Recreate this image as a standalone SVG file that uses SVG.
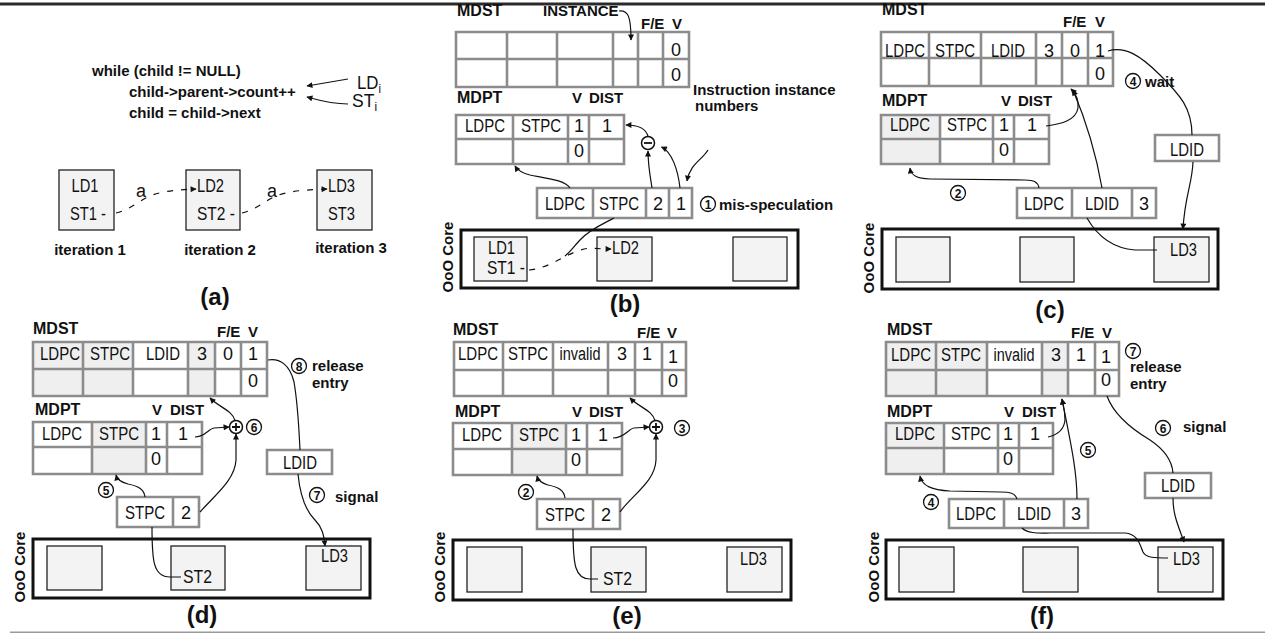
<svg xmlns="http://www.w3.org/2000/svg" width="1265" height="633" viewBox="0 0 1265 633">
<style>
text{fill:#111}
.r{font-family:"Liberation Sans",Arial,sans-serif;font-size:18px}
.m{text-anchor:middle}
.b{font-family:"Liberation Sans",Arial,sans-serif;font-weight:bold;font-size:15px}
.t{font-size:16px}
.cap{font-family:"Liberation Sans",Arial,sans-serif;font-weight:bold;font-size:24px;text-anchor:middle}
.bg{fill:#fff}
.sh{fill:#efefef}
.grid{fill:none;stroke:#8c8c8c;stroke-width:2.6}
.core{fill:#fff;stroke:#111;stroke-width:3}
.ib{fill:#f3f3f3;stroke:#222;stroke-width:1.3}
.c{fill:none;stroke:#111;stroke-width:1.2}
.a{marker-end:url(#ah)}
.d{stroke-dasharray:6 8}
.cn circle{fill:none;stroke:#111;stroke-width:1.3}
.cn text{font-family:"Liberation Sans",Arial,sans-serif;font-weight:bold;font-size:12px;text-anchor:middle}
.op circle{fill:#fff;stroke:#111;stroke-width:1.5}
.op path{stroke:#111;stroke-width:1.8;fill:none}
</style>
<defs>
<marker id="ah" viewBox="0 0 10 10" refX="9" refY="5" markerWidth="8" markerHeight="6" markerUnits="userSpaceOnUse" orient="auto"><path d="M0,0 L10,5 L0,10 z" fill="#111"/></marker>
</defs>
<rect width="1265" height="633" fill="#fff"/>
<path d="M0 4H1265" stroke="#2a2a2a" stroke-width="3"/>
<path d="M10 632.3H1265" stroke="#9a9a9a" stroke-width="1.5"/>

<!-- ===== Panel (a) ===== -->
<g id="panel-a">
<g id="a-code">
<text class="b" x="92" y="76">while (child != NULL)</text>
<text class="b" x="129" y="97">child-&gt;parent-&gt;count++</text>
<text class="b" x="129" y="118">child = child-&gt;next</text>
<text class="r" x="357" y="89" textLength="24" lengthAdjust="spacingAndGlyphs">LD<tspan font-size="12" dy="4">i</tspan></text>
<text class="r" x="352" y="107" textLength="25" lengthAdjust="spacingAndGlyphs">ST<tspan font-size="12" dy="4">i</tspan></text>
</g>
<g id="a-iter1"><rect class="ib" x="59" y="170" width="55" height="60"/><text class="r m" x="85" y="192" textLength="27" lengthAdjust="spacingAndGlyphs">LD1</text><text class="r" x="70" y="220" textLength="36" lengthAdjust="spacingAndGlyphs">ST1 -</text><text class="b m" x="90" y="255">iteration 1</text></g>
<g id="a-iter2"><rect class="ib" x="186" y="170" width="54" height="60"/><text class="r" x="197" y="192" textLength="27" lengthAdjust="spacingAndGlyphs">LD2</text><text class="r" x="197" y="220" textLength="38" lengthAdjust="spacingAndGlyphs">ST2 -</text><text class="b m" x="220" y="255">iteration 2</text></g>
<g id="a-iter3"><rect class="ib" x="317" y="170" width="55" height="60"/><text class="r" x="328" y="192" textLength="27" lengthAdjust="spacingAndGlyphs">LD3</text><text class="r" x="328" y="220" textLength="27" lengthAdjust="spacingAndGlyphs">ST3</text><text class="b m" x="351" y="253">iteration 3</text></g>
<g id="a-connectors">
<path class="c a" d="M348 79L307 86"/>
<path class="c a" d="M348 104C330 104 318 100 307 97"/>
<path class="c a d" d="M116 213C130 210 140 200 150 196S170 190 196 189"/>
<path class="c a d" d="M242 213C256 210 266 200 276 196S298 190 327 189"/>
<text class="r" x="136" y="197">a</text>
<text class="r" x="267" y="197">a</text>
</g>
<text class="cap" x="215" y="305">(a)</text>
</g>

<!-- ===== Panel (b) ===== -->
<g id="panel-b">
<text class="b t" x="457" y="16">MDST</text>
<text class="b" x="543" y="16">INSTANCE</text>
<text class="b" x="641" y="29">F/E</text>
<text class="b" x="672" y="29">V</text>
<g id="b-mdst">
<rect class="bg" x="456" y="32" width="233" height="55"/>
<path class="grid" d="M456 32H689V87H456Z M507 32V87 M557 32V87 M613 32V87 M638 32V87 M663 32V87 M456 59H689"/>
<text class="r m" x="676" y="56">0</text><text class="r m" x="676" y="81">0</text>
</g>
<text class="b t" x="457" y="103">MDPT</text>
<text class="b" x="572" y="103">V</text>
<text class="b" x="589" y="103">DIST</text>
<g id="b-mdpt">
<rect class="bg" x="456" y="115" width="168" height="49"/>
<path class="grid" d="M456 115H624V164H456Z M513 115V164 M568 115V164 M589 115V164 M456 139H624"/>
<text class="r m" x="485" y="132" textLength="40" lengthAdjust="spacingAndGlyphs">LDPC</text><text class="r m" x="541" y="132" textLength="40" lengthAdjust="spacingAndGlyphs">STPC</text><text class="r m" x="579" y="132">1</text><text class="r m" x="607" y="132">1</text>
<text class="r m" x="579" y="157">0</text>
</g>
<text class="b" x="693" y="94.5">Instruction instance</text>
<text class="b" x="695" y="111">numbers</text>
<g id="b-sub" class="op"><circle cx="648" cy="143" r="6.5"/><path d="M644 143H652"/></g>
<g id="b-inst">
<rect class="bg" x="537" y="188" width="155" height="30"/>
<path class="grid" d="M537 188H692V218H537Z M593 188V218 M646 188V218 M669 188V218"/>
<text class="r m" x="565" y="210" textLength="40" lengthAdjust="spacingAndGlyphs">LDPC</text><text class="r m" x="619" y="210" textLength="40" lengthAdjust="spacingAndGlyphs">STPC</text><text class="r m" x="658" y="210">2</text><text class="r m" x="681" y="210">1</text>
</g>
<g id="b-step1"><g class="cn"><circle cx="708" cy="204" r="7.5"/><text x="708" y="208.5">1</text></g><text class="b" x="719" y="210">mis-speculation</text></g>
<g id="b-core">
<rect class="core" x="461" y="230" width="337" height="58"/>
<rect class="ib" x="474" y="237" width="53" height="44"/>
<rect class="ib" x="597" y="237" width="55" height="44"/>
<rect class="ib" x="733" y="237" width="54" height="44"/>
<text class="r" x="488" y="254" textLength="27" lengthAdjust="spacingAndGlyphs">LD1</text><text class="r" x="487" y="274" textLength="38" lengthAdjust="spacingAndGlyphs">ST1 -</text>
<text class="r" x="612" y="254" textLength="27" lengthAdjust="spacingAndGlyphs">LD2</text>
<text class="b m" transform="translate(453,257) rotate(-90)">OoO Core</text>
</g>
<g id="b-connectors">
<path class="c a" d="M619 11C628 10 631 16 631 40"/>
<path class="c a" d="M708 150C702 160 690 164 687 181"/>
<path class="c a" d="M648 136.5C646 128 636 125 626 125"/>
<path class="c a" d="M652 188C650 175 648 165 648 151"/>
<path class="c a" d="M680 188C678 170 672 152 661.5 147"/>
<path class="c a" d="M570 188C565 180 545 178 530 175C522 173 518 171 515 166"/>
<path class="c a d" d="M529 270C548 268 560 258 575 252S590 249 611 249"/>
<path class="c" d="M614 218C605 223 590 229 580 240S570 252 565 256"/>
</g>
<text class="cap" x="625" y="312">(b)</text>
</g>

<!-- ===== Panel (c) ===== -->
<g id="panel-c">
<text class="b t" x="882" y="15">MDST</text>
<text class="b" x="1063" y="27">F/E</text>
<text class="b" x="1095" y="27">V</text>
<g id="c-mdst">
<rect class="bg" x="881" y="32" width="232" height="54"/>
<path class="grid" d="M881 32H1113V86H881Z M929 32V86 M981 32V86 M1036 32V86 M1062 32V86 M1088 32V86 M881 58H1113"/>
<text class="r m" x="905" y="57" textLength="40" lengthAdjust="spacingAndGlyphs">LDPC</text><text class="r m" x="955" y="57" textLength="40" lengthAdjust="spacingAndGlyphs">STPC</text><text class="r m" x="1008" y="57" textLength="34" lengthAdjust="spacingAndGlyphs">LDID</text><text class="r m" x="1049" y="57">3</text><text class="r m" x="1075" y="57">0</text><text class="r m" x="1100" y="57">1</text>
<text class="r m" x="1100" y="80">0</text>
</g>
<text class="b t" x="882" y="106">MDPT</text>
<text class="b" x="1001" y="106">V</text>
<text class="b" x="1018" y="106">DIST</text>
<g id="c-mdpt">
<rect class="bg" x="881" y="115" width="168" height="49"/>
<rect class="sh" x="881" y="115" width="59" height="49"/>
<path class="grid" d="M881 115H1049V164H881Z M940 115V164 M993 115V164 M1014 115V164 M881 139H1049"/>
<text class="r m" x="910" y="131" textLength="40" lengthAdjust="spacingAndGlyphs">LDPC</text><text class="r m" x="967" y="131" textLength="40" lengthAdjust="spacingAndGlyphs">STPC</text><text class="r m" x="1004" y="131">1</text><text class="r m" x="1032" y="131">1</text>
<text class="r m" x="1004" y="156">0</text>
</g>
<g id="c-ldid">
<rect class="bg" x="1155" y="135" width="64" height="26"/>
<path class="grid" d="M1155 135H1219V161H1155Z"/>
<text class="r m" x="1187" y="156" textLength="34" lengthAdjust="spacingAndGlyphs">LDID</text>
</g>
<g id="c-inst">
<rect class="bg" x="1017" y="188" width="139" height="30"/>
<path class="grid" d="M1017 188H1156V218H1017Z M1072 188V218 M1132 188V218"/>
<text class="r m" x="1044" y="210" textLength="40" lengthAdjust="spacingAndGlyphs">LDPC</text><text class="r m" x="1102" y="210" textLength="34" lengthAdjust="spacingAndGlyphs">LDID</text><text class="r m" x="1144" y="210">3</text>
</g>
<g id="c-step4"><g class="cn"><circle cx="1133" cy="81" r="7.5"/><text x="1133" y="85.5">4</text></g><text class="b" x="1145" y="87">wait</text></g>
<g id="c-step2" class="cn"><circle cx="958" cy="193" r="7.5"/><text x="958" y="197.5">2</text></g>
<g id="c-core">
<rect class="core" x="882" y="229" width="336" height="60"/>
<rect class="ib" x="896" y="237" width="54" height="45"/>
<rect class="ib" x="1020" y="237" width="54" height="45"/>
<rect class="ib" x="1154" y="237" width="55" height="45"/>
<text class="r" x="1170" y="256" textLength="27" lengthAdjust="spacingAndGlyphs">LD3</text>
<text class="b m" transform="translate(874,258) rotate(-90)">OoO Core</text>
</g>
<g id="c-connectors">
<path class="c a" d="M1046 126C1062 124 1076 120 1078 108C1079 98 1075 93 1071 89"/>
<path class="c a" d="M1102 188C1098 165 1090 130 1073 90"/>
<path class="c" d="M1108 51C1125 46 1140 55 1160 75C1180 95 1192 108 1192 135"/>
<path class="c a" d="M1193 162C1192 185 1185 195 1183 229"/>
<path class="c a" d="M1039 188C1038 182 1034 180 1025 180L930 179C916 179 911 175 910 168"/>
<path class="c" d="M1087 218C1095 232 1110 248 1135 250L1157 250"/>
</g>
<text class="cap" x="1050" y="318">(c)</text>
</g>

<!-- ===== Panel (d) ===== -->
<g id="panel-d">
<text class="b t" x="33" y="334">MDST</text>
<text class="b" x="217" y="337">F/E</text>
<text class="b" x="248" y="337">V</text>
<g id="d-mdst">
<rect class="bg" x="33" y="342" width="234" height="54"/>
<rect class="sh" x="33" y="342" width="100" height="54"/>
<rect class="sh" x="188" y="342" width="27" height="54"/>
<path class="grid" d="M33 342H267V396H33Z M83 342V396 M133 342V396 M188 342V396 M215 342V396 M241 342V396 M33 369H267"/>
<text class="r m" x="60" y="360" textLength="40" lengthAdjust="spacingAndGlyphs">LDPC</text><text class="r m" x="110" y="360" textLength="40" lengthAdjust="spacingAndGlyphs">STPC</text><text class="r m" x="163" y="360" textLength="34" lengthAdjust="spacingAndGlyphs">LDID</text><text class="r m" x="202" y="360">3</text><text class="r m" x="228" y="360">0</text><text class="r m" x="253" y="360">1</text>
<text class="r m" x="253" y="387">0</text>
</g>
<g id="d-step8"><g class="cn"><circle cx="299" cy="366" r="7.5"/><text x="299" y="370.5">8</text></g><text class="b" x="312" y="371">release</text><text class="b" x="312" y="388">entry</text></g>
<text class="b t" x="35" y="415">MDPT</text>
<text class="b" x="152" y="415">V</text>
<text class="b" x="170" y="415">DIST</text>
<g id="d-mdpt">
<rect class="bg" x="33" y="422" width="169" height="52"/>
<rect class="sh" x="92" y="422" width="54" height="52"/>
<path class="grid" d="M33 422H202V474H33Z M92 422V474 M146 422V474 M167 422V474 M33 447H202"/>
<text class="r m" x="62" y="440" textLength="40" lengthAdjust="spacingAndGlyphs">LDPC</text><text class="r m" x="119" y="440" textLength="40" lengthAdjust="spacingAndGlyphs">STPC</text><text class="r m" x="156" y="440">1</text><text class="r m" x="183" y="440">1</text>
<text class="r m" x="156" y="465">0</text>
</g>
<g id="d-add" class="op"><circle cx="236" cy="427" r="6.5"/><path d="M232 427H240M236 423V431"/></g>
<g id="d-step6" class="cn"><circle cx="254" cy="427" r="7.5"/><text x="254" y="431.5">6</text></g>
<g id="d-ldid">
<rect class="bg" x="267" y="450" width="65" height="24"/>
<path class="grid" d="M267 450H332V474H267Z"/>
<text class="r m" x="300" y="469" textLength="34" lengthAdjust="spacingAndGlyphs">LDID</text>
</g>
<g id="d-step7"><g class="cn"><circle cx="317" cy="495" r="7.5"/><text x="317" y="499.5">7</text></g><text class="b" x="335" y="502">signal</text></g>
<g id="d-step5" class="cn"><circle cx="106" cy="490" r="7.5"/><text x="106" y="494.5">5</text></g>
<g id="d-inst">
<rect class="bg" x="117" y="497" width="82" height="30"/>
<path class="grid" d="M117 497H199V527H117Z M173 497V527"/>
<text class="r m" x="145" y="519" textLength="40" lengthAdjust="spacingAndGlyphs">STPC</text><text class="r m" x="186" y="519">2</text>
</g>
<g id="d-core">
<rect class="core" x="33" y="539" width="337" height="59"/>
<rect class="ib" x="47" y="546" width="55" height="44"/>
<rect class="ib" x="171" y="546" width="54" height="44"/>
<rect class="ib" x="306" y="546" width="55" height="44"/>
<text class="r" x="183" y="583" textLength="29" lengthAdjust="spacingAndGlyphs">ST2</text>
<text class="r" x="321" y="562" textLength="27" lengthAdjust="spacingAndGlyphs">LD3</text>
<text class="b m" transform="translate(25,567) rotate(-90)">OoO Core</text>
</g>
<g id="d-connectors">
<path class="c" d="M268 360C280 358 290 365 294 382C298 405 299 430 300 450"/>
<path class="c a" d="M195 437C205 437 208 429 214 428L229 427"/>
<path class="c a" d="M235 420.5C232 410 220 408 210 398"/>
<path class="c a" d="M200 512C215 495 235 480 236 460L236 434"/>
<path class="c a" d="M298 474C300 495 305 510 315 520C322 527 324 535 325 546"/>
<path class="c a" d="M145 497C144 489 138 486 128 484C120 482 117 479 116 475"/>
<path class="c" d="M152 527C152 560 153 577 170 577L181 577"/>
</g>
<text class="cap" x="202" y="623">(d)</text>
</g>

<!-- ===== Panel (e) ===== -->
<g id="panel-e">
<text class="b t" x="453" y="335">MDST</text>
<text class="b" x="637" y="338">F/E</text>
<text class="b" x="667" y="338">V</text>
<g id="e-mdst">
<rect class="bg" x="454" y="342" width="232" height="54"/>
<path class="grid" d="M454 342H686V396H454Z M503 342V396 M553 342V396 M608 342V396 M635 342V396 M662 342V396 M454 370H686"/>
<text class="r m" x="478" y="360" textLength="40" lengthAdjust="spacingAndGlyphs">LDPC</text><text class="r m" x="528" y="360" textLength="40" lengthAdjust="spacingAndGlyphs">STPC</text><text class="r m" x="580" y="360" textLength="41" lengthAdjust="spacingAndGlyphs">invalid</text><text class="r m" x="622" y="360">3</text><text class="r m" x="647" y="360">1</text><text class="r m" x="673" y="363">1</text>
<text class="r m" x="673" y="387">0</text>
</g>
<text class="b t" x="455" y="417">MDPT</text>
<text class="b" x="572" y="417">V</text>
<text class="b" x="589" y="417">DIST</text>
<g id="e-mdpt">
<rect class="bg" x="453" y="423" width="169" height="52"/>
<rect class="sh" x="512" y="423" width="54" height="52"/>
<path class="grid" d="M453 423H622V475H453Z M512 423V475 M566 423V475 M587 423V475 M453 449H622"/>
<text class="r m" x="482" y="441" textLength="40" lengthAdjust="spacingAndGlyphs">LDPC</text><text class="r m" x="539" y="441" textLength="40" lengthAdjust="spacingAndGlyphs">STPC</text><text class="r m" x="576" y="441">1</text><text class="r m" x="603" y="441">1</text>
<text class="r m" x="576" y="466">0</text>
</g>
<g id="e-add" class="op"><circle cx="656" cy="427" r="6.5"/><path d="M652 427H660M656 423V431"/></g>
<g id="e-step3" class="cn"><circle cx="682" cy="428" r="7.5"/><text x="682" y="432.5">3</text></g>
<g id="e-step2" class="cn"><circle cx="526" cy="492" r="7.5"/><text x="526" y="496.5">2</text></g>
<g id="e-inst">
<rect class="bg" x="537" y="499" width="83" height="30"/>
<path class="grid" d="M537 499H620V529H537Z M593 499V529"/>
<text class="r m" x="565" y="521" textLength="40" lengthAdjust="spacingAndGlyphs">STPC</text><text class="r m" x="606" y="521">2</text>
</g>
<g id="e-core">
<rect class="core" x="453" y="540" width="338" height="60"/>
<rect class="ib" x="467" y="547" width="55" height="45"/>
<rect class="ib" x="591" y="547" width="55" height="45"/>
<rect class="ib" x="727" y="547" width="55" height="45"/>
<text class="r" x="603" y="585" textLength="29" lengthAdjust="spacingAndGlyphs">ST2</text>
<text class="r" x="740" y="565" textLength="27" lengthAdjust="spacingAndGlyphs">LD3</text>
<text class="b m" transform="translate(445,567) rotate(-90)">OoO Core</text>
</g>
<g id="e-connectors">
<path class="c a" d="M613 438C625 438 628 429 634 428L649 427"/>
<path class="c a" d="M655 420.5C652 410 640 408 630 398"/>
<path class="c a" d="M620 512C632 495 655 482 656 460L656 434"/>
<path class="c a" d="M565 498C564 490 558 487 548 485C541 483 538 480 537 476"/>
<path class="c" d="M573 529C573 565 575 579 590 579L598 579"/>
</g>
<text class="cap" x="627" y="624">(e)</text>
</g>

<!-- ===== Panel (f) ===== -->
<g id="panel-f">
<text class="b t" x="887" y="335">MDST</text>
<text class="b" x="1071" y="338">F/E</text>
<text class="b" x="1102" y="338">V</text>
<g id="f-mdst">
<rect class="bg" x="886" y="342" width="233" height="54"/>
<rect class="sh" x="886" y="342" width="101" height="54"/>
<rect class="sh" x="1042" y="342" width="26" height="54"/>
<path class="grid" d="M886 342H1119V396H886Z M936 342V396 M987 342V396 M1042 342V396 M1068 342V396 M1095 342V396 M886 370H1119"/>
<text class="r m" x="911" y="361" textLength="40" lengthAdjust="spacingAndGlyphs">LDPC</text><text class="r m" x="961" y="361" textLength="40" lengthAdjust="spacingAndGlyphs">STPC</text><text class="r m" x="1014" y="361" textLength="41" lengthAdjust="spacingAndGlyphs">invalid</text><text class="r m" x="1056" y="361">3</text><text class="r m" x="1081" y="361">1</text><text class="r m" x="1106" y="363">1</text>
<text class="r m" x="1106" y="386">0</text>
</g>
<g id="f-step7"><g class="cn"><circle cx="1133" cy="351" r="7.5"/><text x="1133" y="355.5">7</text></g><text class="b" x="1130" y="372">release</text><text class="b" x="1130" y="389">entry</text></g>
<text class="b t" x="887" y="417">MDPT</text>
<text class="b" x="1004" y="417">V</text>
<text class="b" x="1022" y="417">DIST</text>
<g id="f-mdpt">
<rect class="bg" x="886" y="423" width="167" height="51"/>
<rect class="sh" x="886" y="423" width="58" height="51"/>
<path class="grid" d="M886 423H1053V474H886Z M944 423V474 M998 423V474 M1019 423V474 M886 448H1053"/>
<text class="r m" x="915" y="440" textLength="40" lengthAdjust="spacingAndGlyphs">LDPC</text><text class="r m" x="971" y="440" textLength="40" lengthAdjust="spacingAndGlyphs">STPC</text><text class="r m" x="1008" y="440">1</text><text class="r m" x="1035" y="440">1</text>
<text class="r m" x="1008" y="465">0</text>
</g>
<g id="f-step5" class="cn"><circle cx="1088" cy="450" r="7.5"/><text x="1088" y="454.5">5</text></g>
<g id="f-step6"><g class="cn"><circle cx="1163" cy="428" r="7.5"/><text x="1163" y="432.5">6</text></g><text class="b" x="1183" y="432">signal</text></g>
<g id="f-ldid">
<rect class="bg" x="1145" y="473" width="66" height="25"/>
<path class="grid" d="M1145 473H1211V498H1145Z"/>
<text class="r m" x="1178" y="492" textLength="34" lengthAdjust="spacingAndGlyphs">LDID</text>
</g>
<g id="f-step4" class="cn"><circle cx="931" cy="502" r="7.5"/><text x="931" y="506.5">4</text></g>
<g id="f-inst">
<rect class="bg" x="949" y="499" width="139" height="29"/>
<path class="grid" d="M949 499H1088V528H949Z M1004 499V528 M1064 499V528"/>
<text class="r m" x="976" y="520" textLength="40" lengthAdjust="spacingAndGlyphs">LDPC</text><text class="r m" x="1034" y="520" textLength="34" lengthAdjust="spacingAndGlyphs">LDID</text><text class="r m" x="1076" y="520">3</text>
</g>
<g id="f-core">
<rect class="core" x="886" y="540" width="337" height="59"/>
<rect class="ib" x="899" y="547" width="55" height="45"/>
<rect class="ib" x="1023" y="547" width="55" height="45"/>
<rect class="ib" x="1158" y="547" width="55" height="45"/>
<text class="r" x="1173" y="565" textLength="27" lengthAdjust="spacingAndGlyphs">LD3</text>
<text class="b m" transform="translate(879,567) rotate(-90)">OoO Core</text>
</g>
<g id="f-connectors">
<path class="c a" d="M1048 437C1057 435 1064 430 1065 420C1065 410 1063 404 1062 399"/>
<path class="c a" d="M1077 499C1077 470 1070 440 1062 399"/>
<path class="c" d="M1107 396C1112 410 1125 425 1150 440C1165 450 1172 460 1173 473"/>
<path class="c a" d="M1173 498C1173 515 1178 525 1184 542"/>
<path class="c a" d="M1017 499C1015 493 1010 492 1000 492L950 491C932 490 922 486 920 476"/>
<path class="c" d="M1022 528C1028 534 1040 533 1050 533L1125 533C1138 534 1140 545 1143 552C1146 558 1155 558 1168 558"/>
</g>
<text class="cap" x="1042" y="624">(f)</text>
</g>
</svg>
